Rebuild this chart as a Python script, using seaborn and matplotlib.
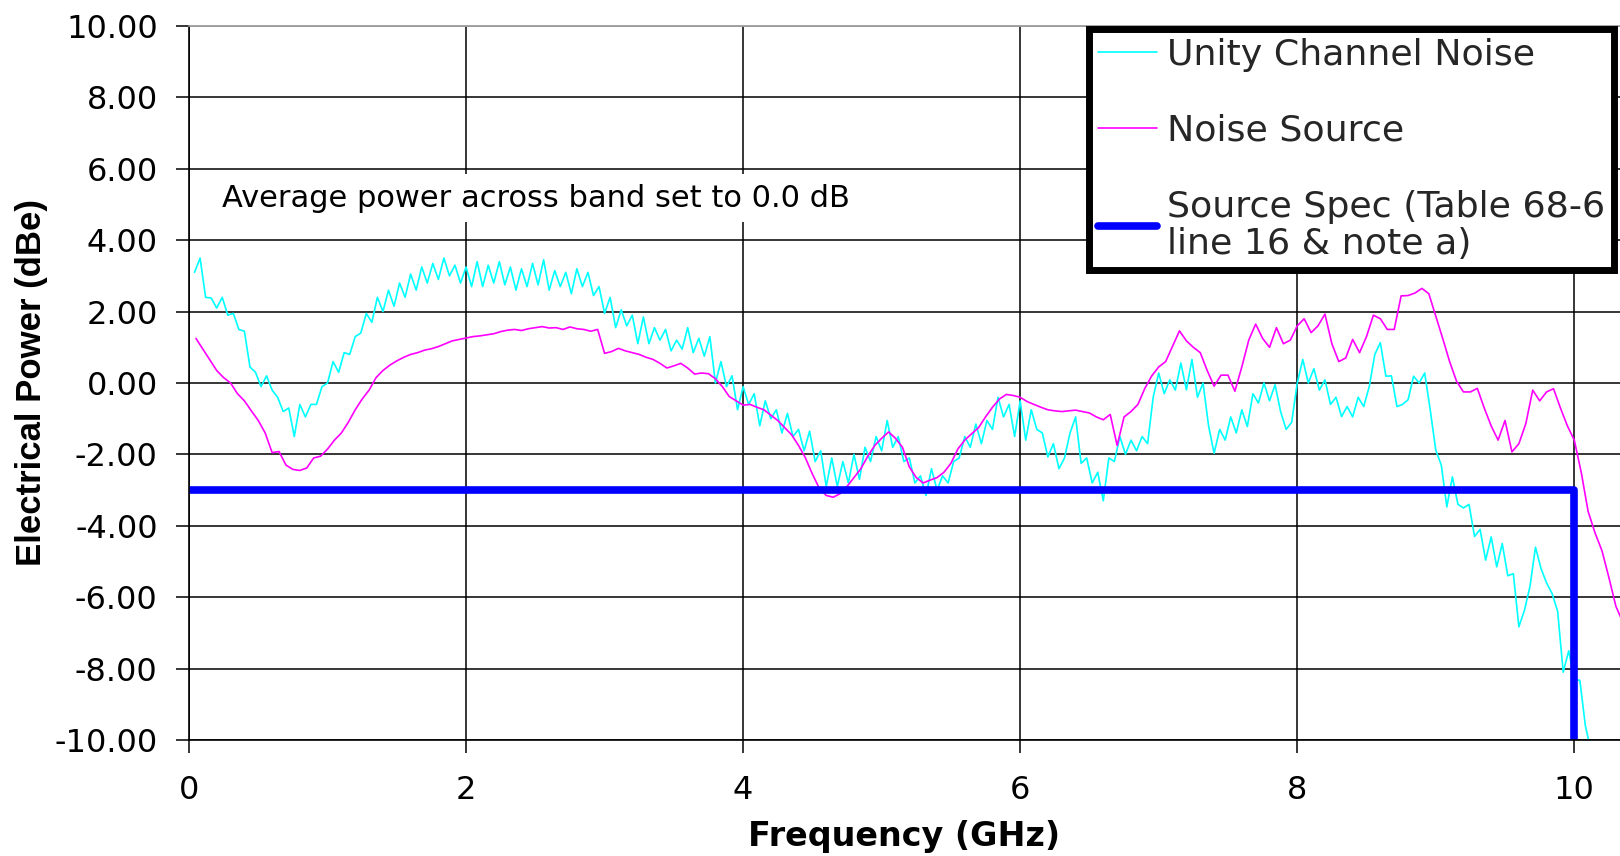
import numpy as np
import matplotlib
matplotlib.use("Agg")
import matplotlib.pyplot as plt
import seaborn as sns
from matplotlib.ticker import FormatStrFormatter

# --------------------------------------------------------------------
# DATA
# --------------------------------------------------------------------
# Unity channel noise, sampled every 0.04 GHz starting at 0.04 GHz (one row per GHz)
unity_step = 0.04
unity_db = [
    3.10, 3.50, 2.40, 2.38, 2.10, 2.40, 1.90, 1.95, 1.50, 1.45, 0.45, 0.30, -0.10, 0.20, -0.20, -0.40, -0.80, -0.70, -1.50, -0.60, -0.95, -0.60, -0.60, -0.10, 0.00,
    0.60, 0.30, 0.85, 0.80, 1.30, 1.40, 1.95, 1.70, 2.40, 2.00, 2.60, 2.15, 2.80, 2.40, 3.05, 2.60, 3.25, 2.80, 3.35, 2.90, 3.50, 3.00, 3.30, 2.80, 3.25,
    2.70, 3.40, 2.70, 3.30, 2.80, 3.40, 2.75, 3.25, 2.60, 3.20, 2.70, 3.35, 2.75, 3.45, 2.60, 3.15, 2.70, 3.10, 2.50, 3.20, 2.70, 3.10, 2.45, 2.70, 1.95,
    2.40, 1.55, 2.05, 1.60, 1.90, 1.10, 1.85, 1.10, 1.55, 1.20, 1.50, 0.90, 1.20, 0.95, 1.55, 0.85, 1.25, 0.75, 1.30, 0.00, 0.60, -0.10, 0.20, -0.75, -0.10,
    -0.60, -0.30, -1.20, -0.50, -1.00, -0.75, -1.40, -0.85, -1.50, -1.30, -1.90, -1.35, -2.20, -1.90, -2.90, -2.10, -2.90, -2.20, -2.80, -2.00, -2.70, -1.80, -2.20, -1.50, -1.90,
    -1.05, -1.80, -1.50, -2.20, -2.10, -2.80, -2.60, -3.15, -2.40, -3.00, -2.60, -2.80, -2.20, -2.10, -1.50, -1.80, -1.15, -1.70, -1.05, -1.30, -0.40, -0.95, -0.60, -1.50, -0.50,
    -1.60, -0.75, -1.30, -1.40, -2.07, -1.70, -2.40, -2.10, -1.40, -0.95, -2.25, -2.10, -2.80, -2.50, -3.30, -2.10, -2.20, -1.50, -2.00, -1.60, -1.90, -1.50, -1.70, -0.40, 0.28,
    -0.30, 0.09, -0.20, 0.56, -0.19, 0.66, -0.40, 0.00, -1.20, -1.97, -1.30, -1.60, -0.95, -1.40, -0.75, -1.22, -0.30, -0.56, 0.00, -0.50, -0.05, -0.80, -1.30, -1.10, 0.00,
    0.66, 0.00, 0.40, -0.20, 0.09, -0.60, -0.40, -0.94, -0.66, -0.95, -0.40, -0.66, -0.10, 0.80, 1.13, 0.19, 0.20, -0.66, -0.60, -0.47, 0.19, 0.00, 0.28, -0.75, -1.88,
    -2.30, -3.47, -2.63, -3.40, -3.50, -3.40, -4.30, -4.10, -4.96, -4.31, -5.15, -4.50, -5.40, -5.34, -6.83, -6.37, -5.70, -4.60, -5.20, -5.60, -5.90, -6.40, -8.10, -7.50, -8.30,
    -8.33, -9.60, -10.30,
]

# Noise source, sampled every 0.05 GHz starting at 0.05 GHz (one row per GHz)
noise_step = 0.05
noise_db = [
    1.25, 0.95, 0.65, 0.35, 0.15, 0.00, -0.30, -0.50, -0.78, -1.05, -1.40, -1.95, -1.92, -2.30, -2.42, -2.45, -2.38, -2.10, -2.05, -1.85,
    -1.60, -1.40, -1.10, -0.75, -0.45, -0.20, 0.15, 0.35, 0.50, 0.62, 0.72, 0.80, 0.85, 0.92, 0.96, 1.02, 1.10, 1.18, 1.22, 1.26,
    1.30, 1.32, 1.35, 1.38, 1.44, 1.48, 1.50, 1.47, 1.52, 1.55, 1.58, 1.54, 1.55, 1.50, 1.57, 1.52, 1.50, 1.45, 1.50, 0.83,
    0.88, 0.97, 0.90, 0.85, 0.80, 0.72, 0.66, 0.55, 0.42, 0.48, 0.55, 0.42, 0.25, 0.28, 0.26, 0.12, -0.10, -0.38, -0.50, -0.62,
    -0.60, -0.68, -0.75, -0.90, -1.05, -1.25, -1.45, -1.75, -2.10, -2.55, -2.95, -3.15, -3.20, -3.10, -2.90, -2.65, -2.40, -2.05, -1.75, -1.55,
    -1.37, -1.55, -1.80, -2.35, -2.65, -2.80, -2.72, -2.65, -2.50, -2.25, -1.85, -1.60, -1.42, -1.25, -0.95, -0.68, -0.45, -0.32, -0.35, -0.40,
    -0.52, -0.60, -0.68, -0.75, -0.78, -0.80, -0.78, -0.76, -0.80, -0.84, -0.95, -1.03, -0.88, -1.75, -0.95, -0.80, -0.60, -0.15, 0.20, 0.45,
    0.60, 1.03, 1.46, 1.18, 1.00, 0.85, 0.35, -0.09, 0.22, 0.22, -0.23, 0.45, 1.20, 1.65, 1.25, 1.00, 1.55, 1.10, 1.20, 1.60,
    1.80, 1.41, 1.60, 1.93, 1.10, 0.60, 0.70, 1.22, 0.85, 1.30, 1.90, 1.80, 1.50, 1.50, 2.44, 2.45, 2.52, 2.65, 2.50, 1.88,
    1.25, 0.60, 0.05, -0.25, -0.25, -0.15, -0.70, -1.20, -1.60, -1.05, -1.93, -1.70, -1.14, -0.20, -0.50, -0.25, -0.16, -0.70, -1.20, -1.60,
    -2.50, -3.60, -4.20, -4.70, -5.45, -6.25, -6.70,
]

# Source spec mask (Table 68-6 line 16 & note a)
spec_freq = [0.0, 10.0, 10.0]
spec_db = [-3.0, -3.0, -10.0]

series_labels = ["Unity Channel Noise", "Noise Source",
                 "Source Spec (Table 68-6\nline 16 & note a)"]
series_colors = ["#00FFFF", "#FF00FF", "#0000FF"]

x_ticks = [0, 2, 4, 6, 8, 10]
y_ticks = [-10, -8, -6, -4, -2, 0, 2, 4, 6, 8, 10]

unity_freq = np.round(unity_step * np.arange(1, len(unity_db) + 1), 3)
noise_freq = np.round(noise_step * np.arange(1, len(noise_db) + 1), 3)

# --------------------------------------------------------------------
# PLOT
# --------------------------------------------------------------------
sns.set_theme(style="white")
plt.rcParams["font.family"] = ["DejaVu Sans"]
plt.rcParams["axes.unicode_minus"] = False

fig = plt.figure(figsize=(16.2, 8.56), dpi=100)
ax = fig.add_axes([189 / 1620, 1 - 740 / 856, (1620 - 189) / 1620, (740 - 26) / 856])

sns.lineplot(x=unity_freq, y=unity_db, color=series_colors[0], lw=1.2,
             label=series_labels[0], estimator=None, sort=False, ax=ax)
sns.lineplot(x=noise_freq, y=noise_db, color=series_colors[1], lw=1.2,
             label=series_labels[1], estimator=None, sort=False, ax=ax)
sns.lineplot(x=spec_freq, y=spec_db, color=series_colors[2], lw=5.5,
             label=series_labels[2], estimator=None, sort=False, ax=ax)

ax.set_xlim(0, 10.33)
ax.set_ylim(-10, 10)
ax.set_xticks(x_ticks)
ax.set_yticks(y_ticks)
ax.yaxis.set_major_formatter(FormatStrFormatter("%.2f"))

ax.grid(True, color="black", lw=1.1)
ax.yaxis.get_gridlines()[-1].set_color("#999999")
ax.tick_params(axis="both", direction="out", length=9.5, width=1.1, color="black",
               labelsize=23, labelcolor="black", bottom=True, left=True)
ax.tick_params(axis="y", pad=13)
ax.tick_params(axis="x", pad=16)

for side in ["left", "bottom"]:
    ax.spines[side].set_color("black")
    ax.spines[side].set_linewidth(1.2)
ax.spines["top"].set_color("#999999")
ax.spines["right"].set_visible(False)

ax.set_xlabel("Frequency (GHz)", fontsize=24, fontweight="bold", color="black")
ax.xaxis.set_label_coords(0.5, -0.112)
ax.set_ylabel("Electrical Power (dBe)", fontsize=25, fontweight="bold",
              family="Liberation Sans", color="black")
ax.yaxis.set_label_coords(-0.0985, 0.5)

ax.text(0.24, 5.18, "Average power across band set to 0.0 dB", fontsize=22,
        ha="left", va="center", color="black",
        bbox=dict(facecolor="white", edgecolor="none", boxstyle="square,pad=0.3"))

leg = ax.legend(loc="upper right", bbox_to_anchor=(1614 / 1620, 1 - 29 / 856),
                bbox_transform=fig.transFigure, fontsize=26.2, frameon=True,
                fancybox=False, framealpha=1, edgecolor="black", borderaxespad=0,
                handlelength=1.6, handletextpad=0.28, labelspacing=1.15, borderpad=0.25)
leg.get_frame().set_linewidth(5)
for t in leg.get_texts():
    t.set_linespacing(1.12)

fig.savefig("out.png", dpi=100, facecolor="white")
